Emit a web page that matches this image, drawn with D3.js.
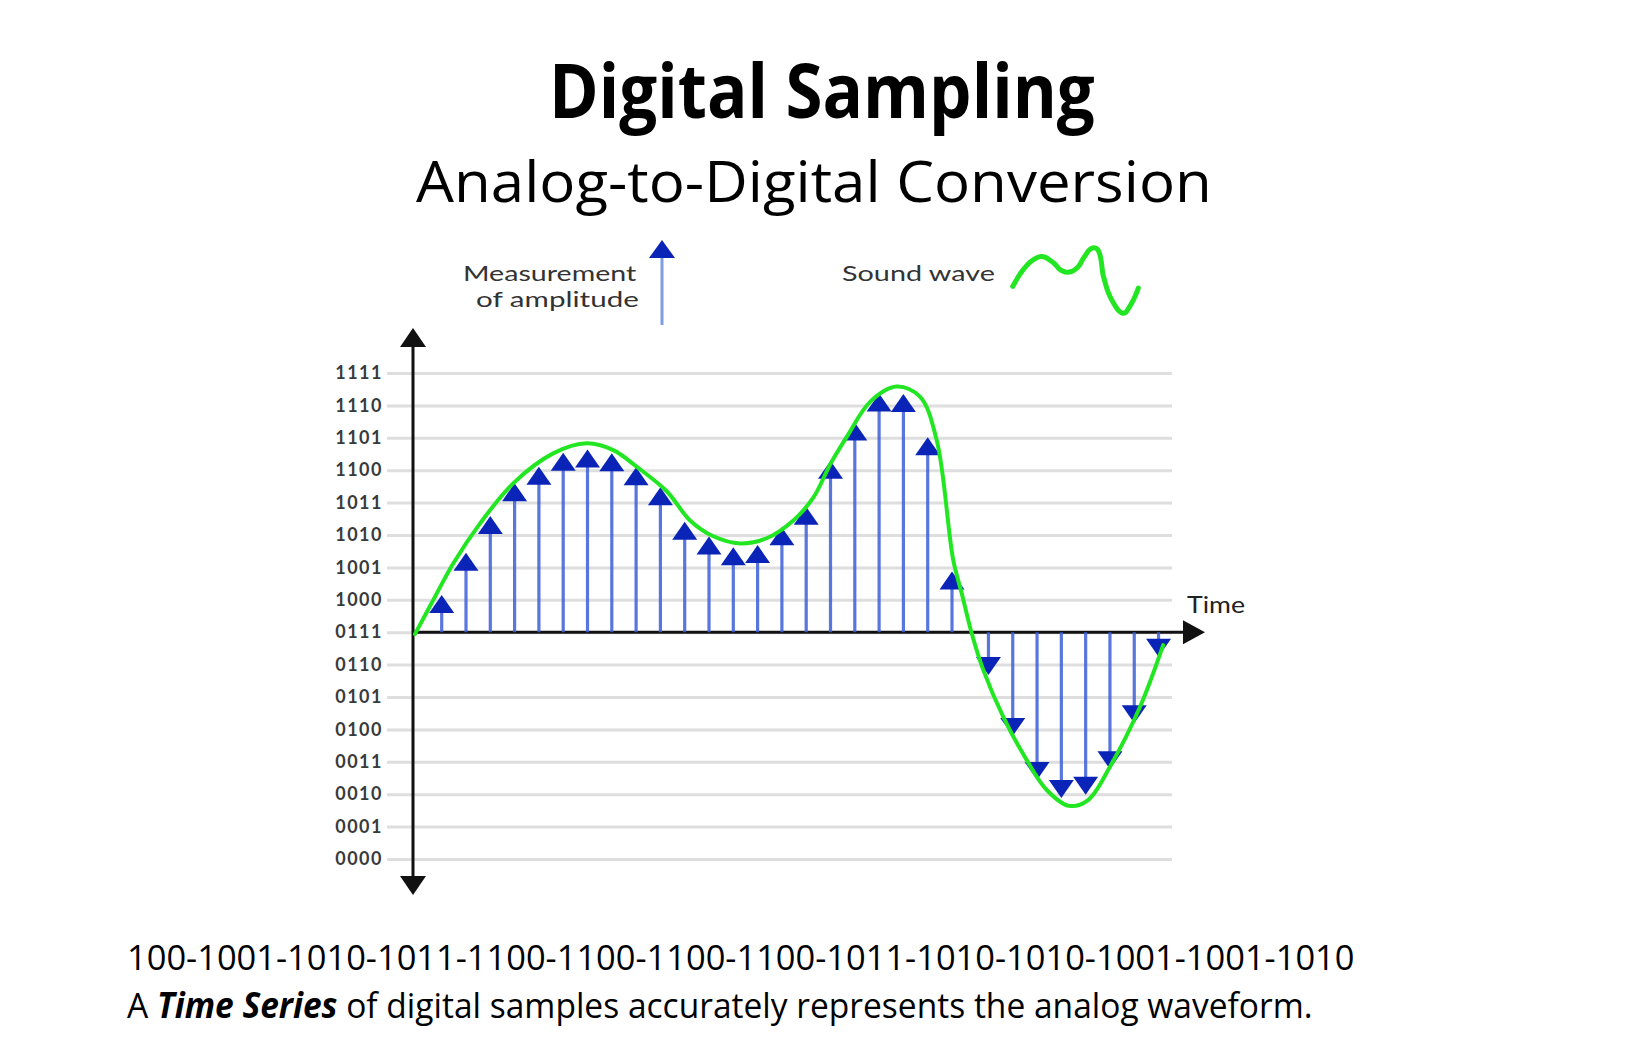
<!DOCTYPE html>
<html>
<head>
<meta charset="utf-8">
<script src="https://cdn.jsdelivr.net/npm/d3@7"></script>
<style>body{margin:0;background:#fff}</style>
</head>
<body>
<div id="chart"></div>
<script>
// quantization levels (y ticks)
var levelLabels = ["0000","0001","0010","0011","0100","0101","0110","0111",
                   "1000","1001","1010","1011","1100","1101","1110","1111"];
// samples above the 0111 axis
var upTimes  = [1,2,3,4,5,6,7,8,9,10,11,12,13,14,15,16,17,18,19,20,21,22];
var upValues = [8.15,9.45,10.59,11.60,12.11,12.54,12.64,12.52,12.09,11.47,10.41,
                9.95,9.62,9.69,10.24,10.87,12.29,13.47,14.37,14.35,13.02,8.87];
// samples below it
var downTimes  = [23.5,24.5,25.5,26.5,27.5,28.5,29.5,30.5];
var downValues = [5.68,3.80,2.44,1.88,1.98,2.77,4.19,6.24];
// the analog sound wave
var waveT = [-0.1,0.65,1.48,2.58,3.95,5.59,6.97,8.06,9.02,10.26,11.22,12.18,13.28,14.37,
             15.47,16.29,17.0,17.67,18.63,19.72,20.68,21.37,22.05,22.4,22.81,23.29,24.11,
             25.07,25.9,26.82,27.6,28.5,29.74,30.69];
var waveV = [6.94,7.99,9.13,10.36,11.60,12.52,12.83,12.62,12.11,11.35,10.45,9.96,9.74,9.90,
             10.45,11.15,12.2,13.03,14.11,14.58,14.27,12.93,9.23,8.20,6.97,5.83,4.39,
             3.06,2.13,1.64,1.82,2.85,4.70,6.60];
var codeLine = "100-1001-1010-1011-1100-1100-1100-1100-1011-1010-1010-1001-1001-1010";

var W = 1632, H = 1056;
var svg = d3.select("#chart").append("svg").attr("width",W).attr("height",H);

var x = d3.scaleLinear().domain([0,30]).range([417.4,1146.4]);
var y = d3.scaleLinear().domain([0,15]).range([859,373]);
var axisX = 413, baseV = 7;

// squeeze/stretch a text horizontally so it spans x0..x1
function fit(t, x0, x1){
	var b = t.node().getBBox();
	t.attr("transform","translate("+x0+",0) scale("+((x1-x0)/b.width)+",1) translate("+(-b.x)+",0)");
}

// titles
var t1 = svg.append("text").text("Digital Sampling").attr("y",118).attr("font-family","Open Sans")
	.attr("font-weight","bold").attr("font-size",76).attr("fill","#000");
fit(t1,549,1095);
var t2 = svg.append("text").text("Analog-to-Digital Conversion").attr("y",202).attr("font-family","Open Sans")
	.attr("font-size",56).attr("fill","#000");
fit(t2,416,1212);

// grid + tick labels
var grid = svg.append("g").attr("transform","translate(387,0)")
	.call(d3.axisLeft(y).tickValues(d3.range(16)).tickFormat(function(d){return levelLabels[d];})
		.tickSize(-785).tickPadding(4));
grid.select(".domain").remove();
grid.selectAll(".tick line").attr("stroke","#dedede").attr("stroke-width",3);
grid.selectAll(".tick text").attr("font-family","Lato").attr("font-weight","bold")
	.attr("font-size",18).attr("letter-spacing",1.5).attr("fill","#3a3a3a");

// axes with arrow heads
var ax = svg.append("g").attr("fill","#111");
ax.append("line").attr("x1",axisX).attr("x2",axisX).attr("y1",340).attr("y2",882)
	.attr("stroke","#111").attr("stroke-width",3);
ax.append("path").attr("d","M"+axisX+",328L"+(axisX-13)+",347L"+(axisX+13)+",347Z");
ax.append("path").attr("d","M"+axisX+",895L"+(axisX-13)+",876L"+(axisX+13)+",876Z");
ax.append("line").attr("x1",axisX).attr("x2",1190).attr("y1",y(baseV)).attr("y2",y(baseV))
	.attr("stroke","#111").attr("stroke-width",3);
ax.append("path").attr("d","M1205,"+y(baseV)+"L1183,"+(y(baseV)-12)+"L1183,"+(y(baseV)+12)+"Z");
var tt = svg.append("text").text("Time").attr("y",613).attr("font-family","Lato")
	.attr("font-size",23).attr("fill","#222");
fit(tt,1187,1245);

// stems
var ups = upTimes.map(function(t,i){return {t:t,v:upValues[i],dir:1};});
var downs = downTimes.map(function(t,i){return {t:t,v:downValues[i],dir:-1};});
var samples = ups.concat(downs);
svg.append("g").selectAll("line").data(samples).enter().append("line")
	.attr("x1",function(d){return x(d.t);}).attr("x2",function(d){return x(d.t);})
	.attr("y1",y(baseV)).attr("y2",function(d){return y(d.v)+d.dir*10;})
	.attr("stroke","#3d5fd8").attr("stroke-width",3.2).attr("opacity",0.85);
svg.append("g").selectAll("path").data(samples).enter().append("path")
	.attr("d",function(d){
		var cx = x(d.t), ty = y(d.v), by = ty + d.dir*18;
		return "M"+cx+","+ty+"L"+(cx-12.5)+","+by+"L"+(cx+12.5)+","+by+"Z";
	})
	.attr("fill","#0b24b8");

// wave
var wave = waveT.map(function(t,i){return [t,waveV[i]];});
svg.append("path").datum(wave)
	.attr("d",d3.line().x(function(d){return x(d[0]);}).y(function(d){return y(d[1]);})
		.curve(d3.curveCatmullRom.alpha(0.5)))
	.attr("fill","none").attr("stroke","#22e622").attr("stroke-width",4).attr("stroke-linecap","round");

// legend
var l1 = svg.append("text").text("Measurement").attr("y",281).attr("font-family","Lato")
	.attr("font-size",21).attr("fill","#333");
fit(l1,463,637);
var l2 = svg.append("text").text("of amplitude").attr("y",307).attr("font-family","Lato")
	.attr("font-size",21).attr("fill","#333");
fit(l2,476,639);
svg.append("line").attr("x1",662).attr("x2",662).attr("y1",255).attr("y2",325)
	.attr("stroke","#7f9ce6").attr("stroke-width",3);
svg.append("path").attr("d","M662,240L649,258L675,258Z").attr("fill","#0b24b8");
var l3 = svg.append("text").text("Sound wave").attr("y",281).attr("font-family","Lato")
	.attr("font-size",21).attr("fill","#333");
fit(l3,842,995);
var lx = d3.scaleLinear().domain([-0.1,30.69]).range([1012.7,1138.3]);
var ly = d3.scaleLinear().domain([1.64,14.58]).range([313.3,247.7]);
svg.append("path").datum(wave)
	.attr("d",d3.line().x(function(d){return lx(d[0]);}).y(function(d){return ly(d[1]);})
		.curve(d3.curveCatmullRom.alpha(0.5)))
	.attr("fill","none").attr("stroke","#22e622").attr("stroke-width",5).attr("stroke-linecap","round");

// bottom text
var b1 = svg.append("text").text(codeLine).attr("y",970).attr("font-family","Open Sans")
	.attr("font-size",35).attr("fill","#000");
fit(b1,127,1355);
var b2 = svg.append("text").attr("y",1018).attr("font-family","Open Sans")
	.attr("font-size",35).attr("fill","#000");
b2.append("tspan").text("A ");
b2.append("tspan").text("Time Series").attr("font-weight","bold").attr("font-style","italic");
b2.append("tspan").text(" of digital samples accurately represents the analog waveform.");
fit(b2,127,1313);
</script>
</body>
</html>
